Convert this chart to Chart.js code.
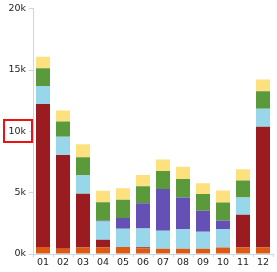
<!DOCTYPE html>
<html>
<head>
<meta charset="utf-8">
<script src="https://cdn.jsdelivr.net/npm/chart.js@4/dist/chart.umd.min.js"></script>
<style>
  html, body { margin:0; padding:0; background:#fff; }
  #wrap { width:277px; height:272px; }
</style>
</head>
<body>
<div id="wrap"><canvas id="chart" width="277" height="272"></canvas></div>
<script>
// months
const labels = ['01','02','03','04','05','06','07','08','09','10','11','12'];

// stacked series, bottom to top
const orange    = [570, 430, 540, 540, 570, 460, 430, 430, 430, 540, 540, 540];
const darkRed   = [11650, 7640, 4370, 630, 0, 100, 0, 0, 0, 0, 2660, 9840];
const lightBlue = [1480, 1480, 1540, 1490, 1490, 1520, 1460, 1600, 1380, 1500, 1410, 1460];
const purple    = [0, 0, 0, 50, 870, 2060, 3410, 2570, 1710, 700, 0, 0];
const green     = [1440, 1250, 1440, 1500, 1490, 1380, 1460, 1520, 1380, 1460, 1380, 1430];
const yellow    = [940, 900, 1060, 940, 950, 920, 950, 1000, 870, 980, 930, 950];

const yTicks = [0, 5000, 10000, 15000, 20000];
const highlightTick = 10000;

const axisColor = '#c9d6e6';
const font = { family: '"DejaVu Sans", Verdana, sans-serif', size: 9.5 };

// red box round one y tick label
const boxPlugin = {
  id: 'tickBox',
  afterDraw(chart){
    const y = Math.round(chart.scales.y.getPixelForValue(highlightTick));
    const ctx = chart.ctx;
    ctx.save();
    ctx.strokeStyle = '#ee1111';
    ctx.lineWidth = 2;
    ctx.strokeRect(4, y - 11, 28, 22);
    ctx.restore();
  }
};

function ds(label, data, color){
  return { label, data, backgroundColor: color, borderWidth: 0,
           barPercentage: 0.7, categoryPercentage: 1.0 };
}

new Chart(document.getElementById('chart'), {
  type: 'bar',
  data: {
    labels,
    datasets: [
      ds('orange', orange, '#dd5a12'),
      ds('darkRed', darkRed, '#9a1c20'),
      ds('lightBlue', lightBlue, '#98d7e9'),
      ds('purple', purple, '#6550b6'),
      ds('green', green, '#5b9a3b'),
      ds('yellow', yellow, '#fee17f')
    ]
  },
  options: {
    responsive: false,
    animation: false,
    devicePixelRatio: 1,
    layout: { padding: { top: 3, right: 4, left: 0, bottom: 0 } },
    plugins: { legend: { display:false }, tooltip: { enabled:false } },
    scales: {
      x: {
        stacked: true,
        grid: { offset: true, drawOnChartArea: false, drawTicks: true, tickLength: 3, color: axisColor },
        border: { color: axisColor, width: 1 },
        ticks: { color:'#222', font, padding: 0, maxRotation: 0 },
        afterFit(s){ s.height = 18; }
      },
      y: {
        stacked: true,
        min: 0, max: 20000,
        afterBuildTicks(s){ s.ticks = yTicks.map(v => ({ value: v })); },
        grid: { drawOnChartArea: false, drawTicks: true, tickLength: 4, color: axisColor },
        border: { color: axisColor, width: 1 },
        ticks: {
          color:'#222', font, padding: 3,
          callback: v => (v/1000) + 'k'
        },
        afterFit(s){ s.width = 33; }
      }
    }
  },
  plugins: [boxPlugin]
});
</script>
</body>
</html>
